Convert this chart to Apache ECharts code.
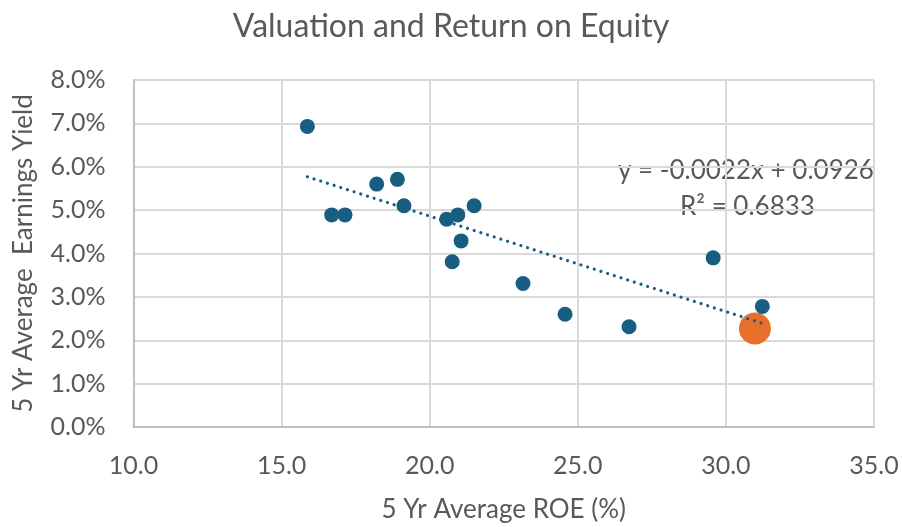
<!DOCTYPE html>
<html><head><meta charset="utf-8">
<script src="https://cdn.jsdelivr.net/npm/echarts@6/dist/echarts.min.js"></script>
<style>html,body{margin:0;padding:0;background:#fff;overflow:hidden}#c{width:902px;height:527px}</style>
</head><body><div id="c"></div>
<script>
// ROE (%) and earnings yield (fraction)
const roeValues = [15.87, 16.69, 17.14, 18.21, 18.91, 19.13, 20.57, 20.95, 21.50, 21.06, 20.76, 23.15, 24.57, 26.73, 29.57, 31.23];
const yieldValues = [0.0693, 0.0489, 0.0489, 0.0560, 0.0571, 0.0510, 0.0479, 0.0489, 0.0510, 0.0429, 0.0381, 0.0331, 0.0260, 0.0231, 0.0390, 0.0278];
const highlightRoe = [30.98];
const highlightYield = [0.0227];
const trendSlope = -0.0022;
const trendIntercept = 0.0926;
const trendR2 = 0.6833;
const xTicks = [10, 15, 20, 25, 30, 35];
const yTicks = [0, 0.01, 0.02, 0.03, 0.04, 0.05, 0.06, 0.07, 0.08];

const FONT = 'Lato';
const TXT = '#595959';
const xMinData = Math.min(...roeValues);
const xMaxData = Math.max(...roeValues);
const trendPts = [xMinData, xMaxData].map(x => [x, trendSlope * x + trendIntercept]);

const chart = echarts.init(document.getElementById('c'), null, {renderer: 'canvas'});
chart.setOption({
  animation: false,
  backgroundColor: '#fff',
  title: {
    text: 'Valuation and Return on Equity',
    left: 'center', top: 6,
    textStyle: {fontFamily: FONT, fontSize: 32, fontWeight: 'normal', color: TXT}
  },
  grid: {left: 133.5, right: 28, top: 80, bottom: 100, containLabel: false, outerBoundsMode: 'none'},
  xAxis: {
    type: 'value', min: xTicks[0], max: xTicks[xTicks.length - 1], interval: 5,
    name: '5 Yr Average ROE (%)', nameLocation: 'middle', nameGap: 70,
    nameTextStyle: {fontFamily: FONT, fontSize: 26, color: TXT},
    axisLine: {show: true, lineStyle: {color: '#bfbfbf', width: 2}},
    axisTick: {show: false},
    axisLabel: {fontFamily: FONT, fontSize: 25, color: TXT, margin: 26, formatter: v => v.toFixed(1)},
    splitLine: {show: true, lineStyle: {color: '#d9d9d9', width: 2}}
  },
  yAxis: {
    type: 'value', min: yTicks[0], max: yTicks[yTicks.length - 1], interval: 0.01,
    name: '5 Yr Average  Earnings Yield', nameLocation: 'middle', nameGap: 97, nameRotate: 90,
    nameTextStyle: {fontFamily: FONT, fontSize: 26, color: TXT},
    axisLine: {show: true, lineStyle: {color: '#bfbfbf', width: 2}},
    axisTick: {show: false},
    axisLabel: {fontFamily: FONT, fontSize: 25, color: TXT, margin: 28, formatter: v => (v * 100).toFixed(1) + '%'},
    splitLine: {show: true, lineStyle: {color: '#d9d9d9', width: 2}}
  },
  series: [
    {
      type: 'scatter', symbolSize: 15,
      itemStyle: {color: '#175E82', opacity: 1},
      data: roeValues.map((x, i) => [x, yieldValues[i]]),
      z: 3
    },
    {
      type: 'line', data: trendPts, symbol: 'none',
      lineStyle: {color: '#175E82', width: 3.2, type: [0.01, 7], cap: 'round'},
      z: 4
    },
    {
      type: 'scatter', symbolSize: 32,
      itemStyle: {color: '#E8702A', opacity: 1},
      data: highlightRoe.map((x, i) => [x, highlightYield[i]]),
      z: 2
    }
  ],
  graphic: [
    {type: 'text', left: 618, top: 158, style: {text: 'y = -' + Math.abs(trendSlope).toFixed(4) + 'x + ' + trendIntercept.toFixed(4), font: '26px ' + FONT, fill: TXT}},
    {type: 'text', left: 680, top: 194, style: {text: 'R² = ' + trendR2.toFixed(4), font: '26px ' + FONT, fill: TXT}}
  ]
});
</script></body></html>
